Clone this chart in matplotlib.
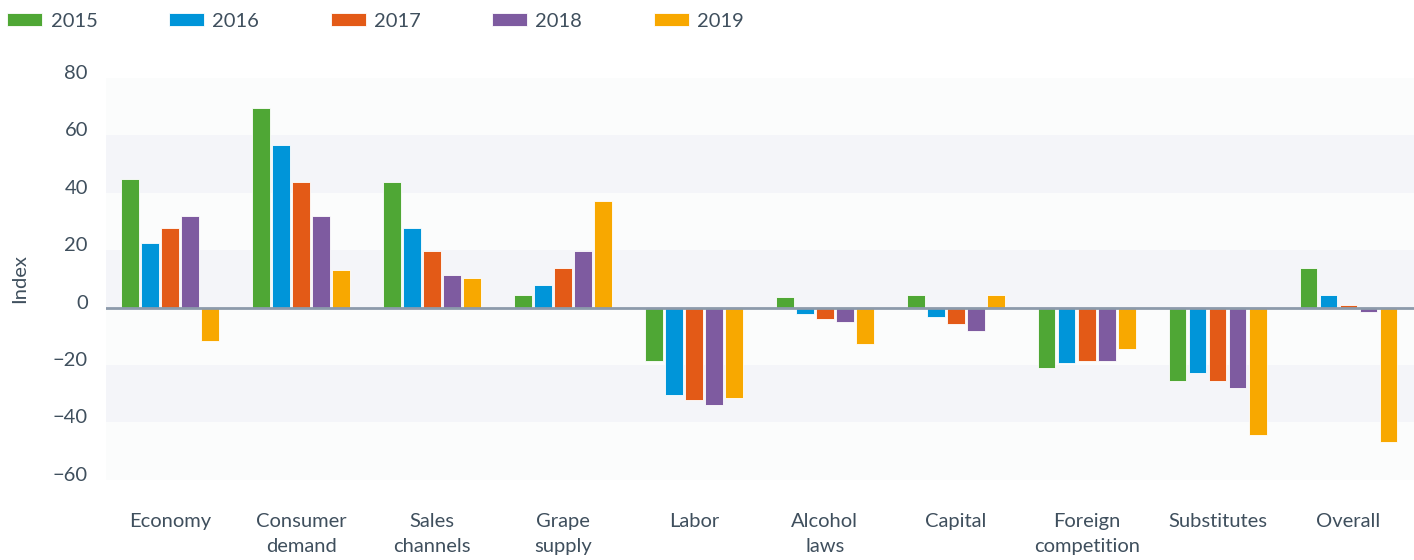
import matplotlib.pyplot as plt
import matplotlib.transforms as mtransforms
import numpy as np

plt.rcParams['font.family'] = ['Lato', 'DejaVu Sans']

# data
categories = ["Economy", "Consumer\ndemand", "Sales\nchannels", "Grape\nsupply", "Labor",
              "Alcohol\nlaws", "Capital", "Foreign\ncompetition", "Substitutes", "Overall"]
years = ["2015", "2016", "2017", "2018", "2019"]
v2015 = [44.8, 69.5, 43.8, 4.4, -18.5, 3.7, 4.4, -21.1, -25.4, 13.9]
v2016 = [22.5, 56.6, 27.6, 7.9, -30.5, -2.3, -3.2, -19.4, -22.8, 4.5]
v2017 = [27.6, 43.8, 19.8, 13.9, -32.2, -4.1, -5.7, -18.6, -25.4, 1.0]
v2018 = [31.9, 31.9, 11.4, 19.8, -34.0, -5.0, -8.2, -18.6, -27.9, -1.5]
v2019 = [-11.7, 13.1, 10.4, 37.0, -31.4, -12.6, 4.5, -14.3, -44.2, -46.8]
yticks = [-60, -40, -20, 0, 20, 40, 60, 80]

series = [v2015, v2016, v2017, v2018, v2019]
colors = ["#4fa735", "#0095d9", "#e35a17", "#7e5ba0", "#f8a800"]
text_color = "#3f4f5d"

fig = plt.figure(figsize=(14.14, 5.6), dpi=100)
ax = fig.add_axes([0.075, 0.143, 0.925, 0.718])

# alternating background bands
band_light = "#fbfcfc"
band_dark = "#f4f5f9"
for i, lo in enumerate(range(-60, 80, 20)):
    ax.axhspan(lo, lo + 20, color=band_light if i % 2 == 0 else band_dark, zorder=0, lw=0)

x = np.arange(len(categories))
width = 0.135
step = 0.153
for i, (vals, year, col) in enumerate(zip(series, years, colors)):
    ax.bar(x + (i - 2) * step, vals, width, color=col, label=year,
           edgecolor="white", linewidth=0.6, zorder=2)

ax.axhline(0, color="#8c9aab", linewidth=2, zorder=3)

ax.set_xlim(-0.49, 9.5)
ax.set_ylim(-60, 80)
ax.set_yticks(yticks)
ax.set_yticklabels([str(t).replace("-", "\u2212") for t in yticks])
ax.set_xticks(x)
ax.set_xticklabels(categories, linespacing=1.55)
ax.tick_params(axis="both", length=0, labelsize=14.5, labelcolor=text_color)
ax.tick_params(axis="x", pad=24)
ax.tick_params(axis="y", pad=13)

# lift y labels a touch above their gridline
offset = mtransforms.ScaledTranslation(0, 6 / 100, fig.dpi_scale_trans)
for lab in ax.get_yticklabels():
    lab.set_transform(lab.get_transform() + offset)

ax.set_ylabel("Index", fontsize=14.5, color=text_color, labelpad=18)

for s in ax.spines.values():
    s.set_visible(False)

fig.legend(loc="upper left", bbox_to_anchor=(-0.007, 1.008), ncol=5, frameon=False,
           fontsize=14.5, handlelength=1.75, handleheight=0.55, handletextpad=0.4,
           columnspacing=3.55, labelcolor=text_color, borderaxespad=0.45)

plt.savefig("out.png", dpi=100)
